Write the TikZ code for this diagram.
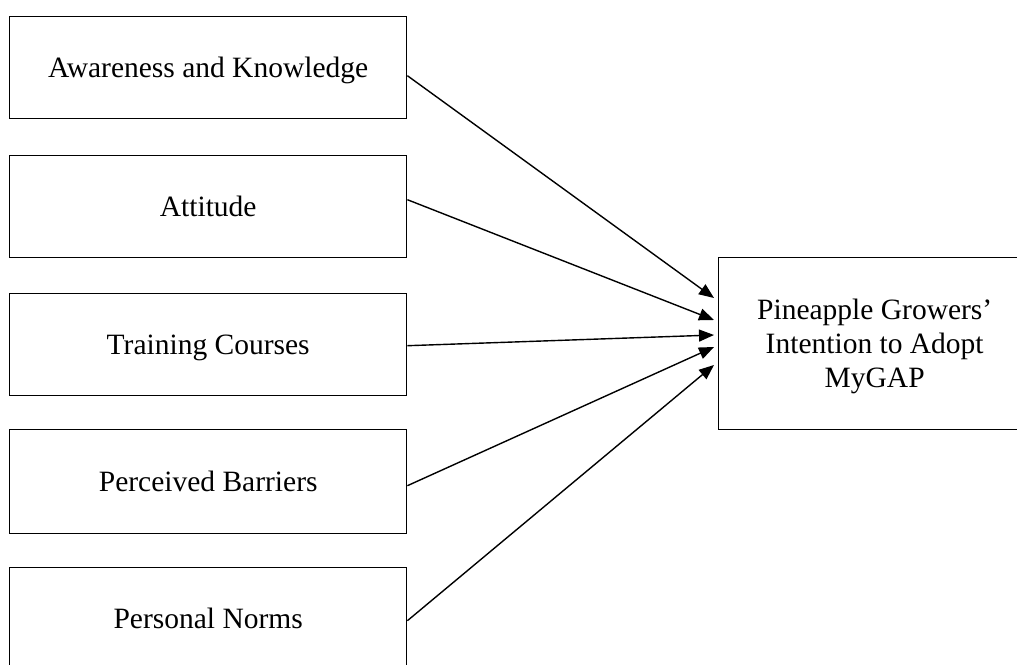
\documentclass[tikz,border=0pt]{standalone}
\usepackage{fontspec}
\setmainfont{Liberation Serif}
\usetikzlibrary{arrows.meta}
\begin{document}
\begin{tikzpicture}[x=1pt,y=-1pt,
  box/.style={draw, line width=1.4pt, minimum width=397pt, minimum height=102pt,
    inner sep=0pt, text depth=0pt, font=\fontsize{29.5}{34}\selectfont, align=center, anchor=north west},
  link/.style={line width=1.4pt, -{Triangle[length=15pt,width=12pt]}}]
\useasboundingbox (0,0) rectangle (1017,664);
\clip (0,0) rectangle (1017,664);
\fill[white] (0,0) rectangle (1017,664);
\node[box] (a1) at (9,16) {Awareness and Knowledge};
\node[box] (a2) at (9,155) {Attitude};
\node[box] (a3) at (9,293) {Training Courses};
\node[box, minimum height=104pt] (a4) at (9,429) {Perceived Barriers};
\node[box] (a5) at (9,567) {Personal Norms};
\node[box, minimum width=312pt, minimum height=172pt] (out) at (718,257)
  {Pineapple Growers’\\Intention to Adopt\\MyGAP};
\coordinate (t1) at (714,298);
\coordinate (t2) at (714,320);
\coordinate (t3) at (714,335);
\coordinate (t4) at (714,347);
\coordinate (t5) at (714,365);
\draw[link] ([yshift=-8pt]a1.east) -- (t1);
\draw[link] ([yshift=7pt]a2.east) -- (t2);
\draw[link] ([yshift=-1pt]a3.east) -- (t3);
\draw[link] ([yshift=-4pt]a4.east) -- (t4);
\draw[link] ([yshift=-2pt]a5.east) -- (t5);
\end{tikzpicture}
\end{document}
